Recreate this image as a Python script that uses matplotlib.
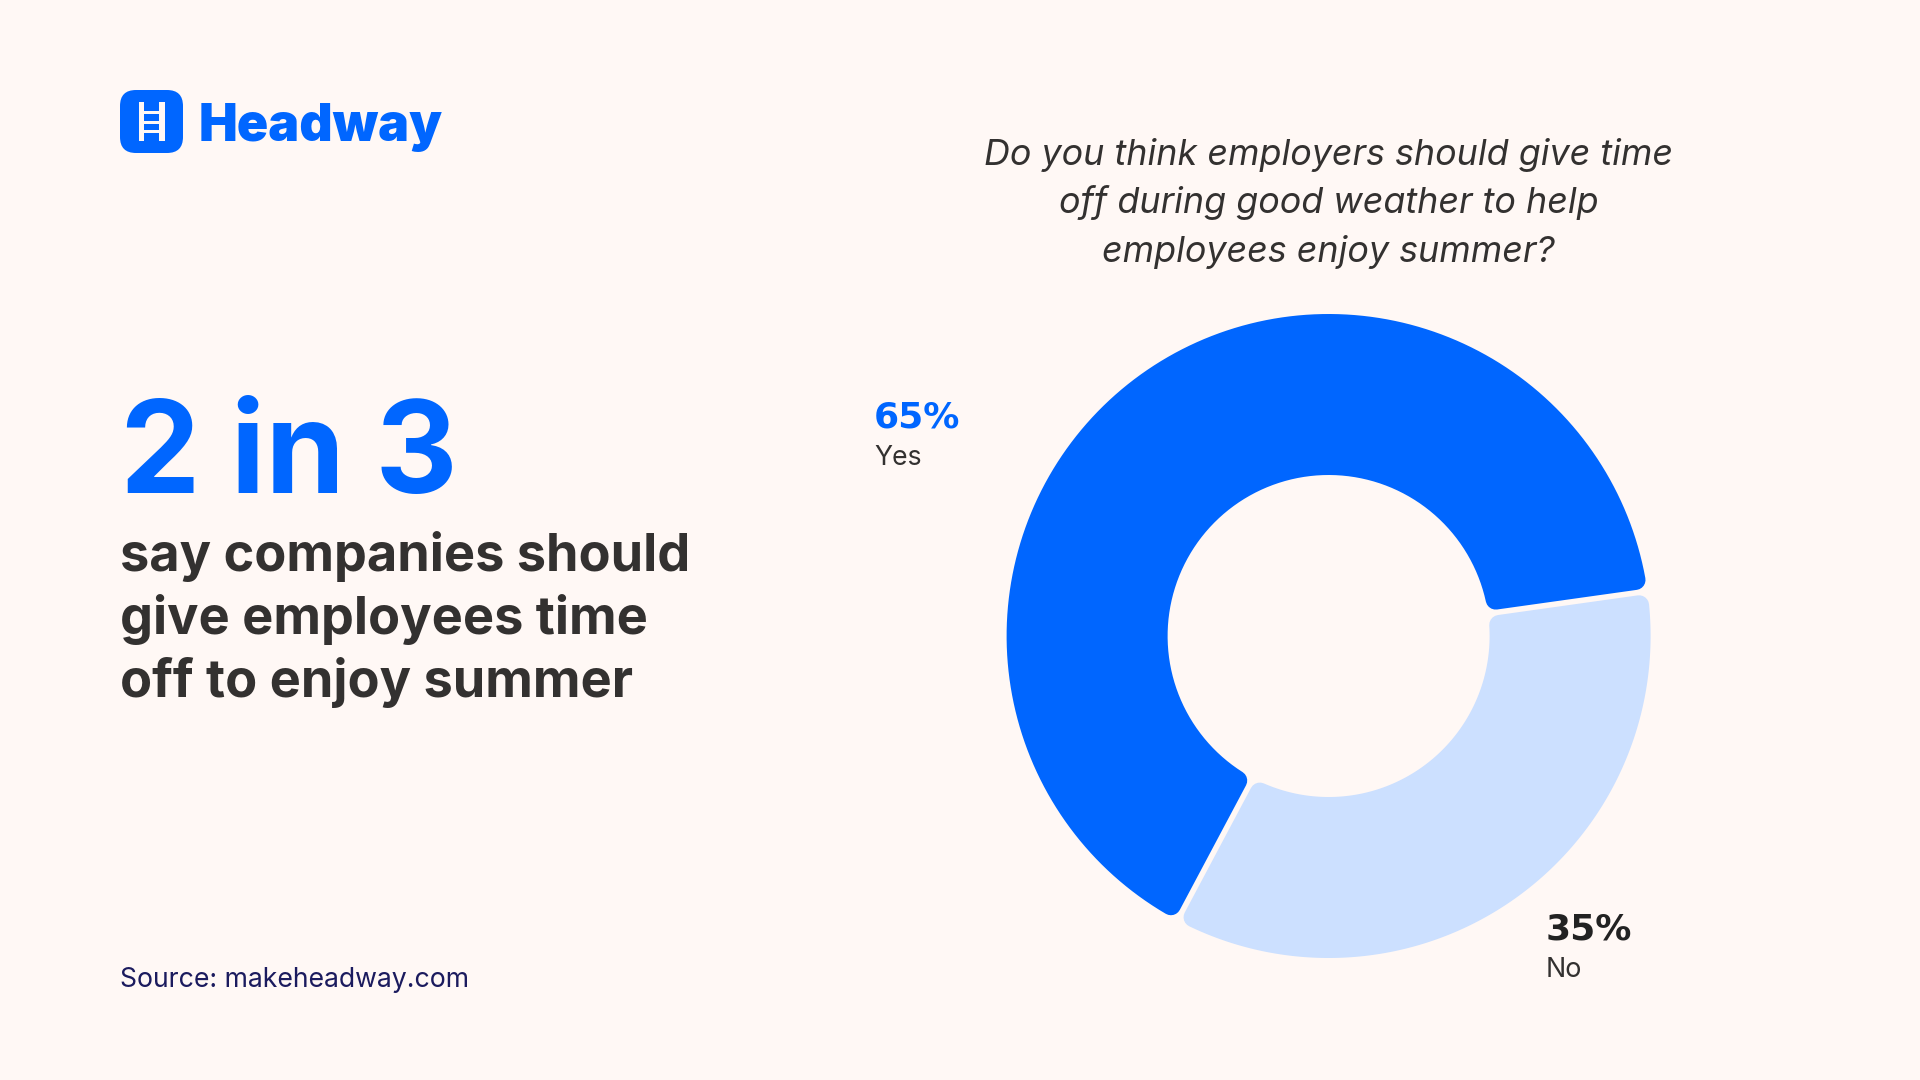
import numpy as np
import matplotlib
matplotlib.use("Agg")
import matplotlib.pyplot as plt
from matplotlib.patches import FancyBboxPatch, Rectangle
from matplotlib.path import Path

categories = ["Yes", "No"]
values = [65, 35]
value_labels = ["65%", "35%"]
slice_colors = ["#0066ff", "#cce0ff"]
headline = "2 in 3"
sub_lines = ["say companies should", "give employees time", "off to enjoy summer"]
question_lines = ["Do you think employers should give time",
                  "off during good weather to help",
                  "employees enjoy summer?"]
source = "Source: makeheadway.com"
brand = "Headway"

BG = "#fff8f5"
BLUE = "#0066ff"
DARK = "#333130"
NAVY = "#1b1b5e"

fig = plt.figure(figsize=(19.2, 10.8), dpi=100, facecolor=BG)

# page axes in pixel coordinates
pg = fig.add_axes([0, 0, 1, 1])
pg.set_xlim(0, 1920)
pg.set_ylim(1080, 0)
pg.axis("off")

# donut
CX, CY, R_PX, HOLE_PX = 1328.6, 636.0, 322.0, 161.0
half = 1.25 * R_PX
ax = fig.add_axes([(CX - half) / 1920, 1 - (CY + half) / 1080, 2 * half / 1920, 2 * half / 1080])
ax.patch.set_alpha(0)
wedges, _ = ax.pie(values, colors=slice_colors, startangle=8.0, counterclock=True,
                   radius=1.0, wedgeprops=dict(width=1 - HOLE_PX / R_PX))


def rounded_sector(t1, t2, r_out, r_in, off):
    """Annular sector whose straight sides are offset in parallel by off."""
    a1o, a2o = np.radians(t1) + np.arcsin(off / r_out), np.radians(t2) - np.arcsin(off / r_out)
    a1i, a2i = np.radians(t1) + np.arcsin(off / r_in), np.radians(t2) - np.arcsin(off / r_in)
    to = np.linspace(a1o, a2o, 160)
    ti = np.linspace(a2i, a1i, 100)
    xy = np.vstack([np.c_[r_out * np.cos(to), r_out * np.sin(to)],
                    np.c_[r_in * np.cos(ti), r_in * np.sin(ti)]])
    xy = np.vstack([xy, xy[0]])
    codes = [Path.MOVETO] + [Path.LINETO] * (len(xy) - 2) + [Path.CLOSEPOLY]
    return Path(xy, codes)


CORNER_PX = 10.0
CORNER = CORNER_PX / R_PX
GAP = 2.8 / R_PX
for w, c in zip(wedges, slice_colors):
    w._path = rounded_sector(w.theta1, w.theta2, 1 - CORNER, HOLE_PX / R_PX + CORNER, CORNER + GAP)
    w.set_edgecolor(c)
    w.set_linewidth(2 * CORNER_PX * 0.72)
    w.set_joinstyle("round")

# logo
pg.add_patch(FancyBboxPatch((132, 102), 39, 39, boxstyle="round,pad=12,rounding_size=16",
                            fc=BLUE, ec="none"))
for x in (138.5, 159):
    pg.add_patch(Rectangle((x, 102), 5.5, 39, fc=BG, ec="none"))
for y in (111, 120.5, 130):
    pg.add_patch(Rectangle((140, y), 22, 3, fc=BG, ec="none"))
pg.text(199, 141, brand, fontsize=37.3, fontweight="black", family="Inter", color=BLUE, va="baseline")

# left text
pg.text(120, 493, headline, fontsize=92, fontweight="bold", family="Inter", color=BLUE, va="baseline")
for s, y in zip(sub_lines, (571, 634, 697)):
    pg.text(120, y, s, fontsize=37.65, fontweight="bold", family="Inter", color=DARK, va="baseline")
pg.text(120, 987, source, fontsize=19.2, family="Inter", color=NAVY, va="baseline")

# question
for s, y in zip(question_lines, (165, 213.5, 262)):
    pg.text(CX, y, s, fontsize=25.85, style="italic", family="Inter", color=DARK, va="baseline", ha="center")

# labels
pg.text(874, 428, value_labels[0], fontsize=26, fontweight="bold", color=BLUE, va="baseline")
pg.text(874, 465, categories[0], fontsize=19.2, family="Inter", color=DARK, va="baseline")
pg.text(1546, 940, value_labels[1], fontsize=26, fontweight="bold", color="#222222", va="baseline")
pg.text(1546, 977, categories[1], fontsize=19.4, family="Inter", color=DARK, va="baseline")

fig.savefig("out.png", dpi=100, facecolor=BG)
